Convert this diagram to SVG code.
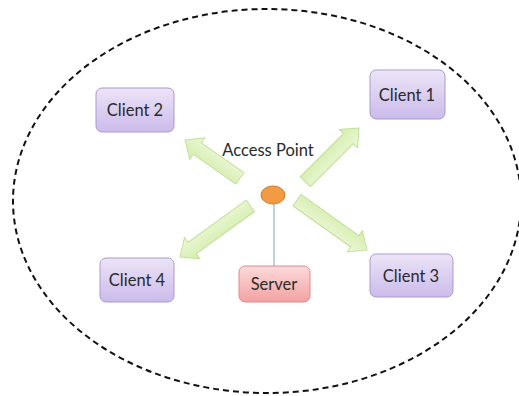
<svg xmlns="http://www.w3.org/2000/svg" width="519" height="396" viewBox="0 0 519 396">
<defs>
<linearGradient id="gp" x1="0" y1="0" x2="0" y2="1"><stop offset="0" stop-color="#ece4f7"/><stop offset="1" stop-color="#cbbbea"/></linearGradient>
<linearGradient id="gr" x1="0" y1="0" x2="0" y2="1"><stop offset="0" stop-color="#fcdada"/><stop offset="1" stop-color="#f2a2a2"/></linearGradient>
<linearGradient id="gg" x1="0" y1="0" x2="0" y2="1"><stop offset="0" stop-color="#eef8d8"/><stop offset="1" stop-color="#d2ecac"/></linearGradient>
</defs>
<style>
.box{fill:url(#gp);stroke:#ad99d0;stroke-width:1}
.srv{fill:url(#gr);stroke:#dc8c8c;stroke-width:1}
.t{font-family:Lato,"Open Sans",sans-serif;font-size:16.5px;fill:#2a2a2a;text-anchor:middle}
.ar{fill:url(#gg);stroke:#c2e09a;stroke-width:1}
</style>
<rect width="519" height="396" fill="#fff"/>
<ellipse cx="267" cy="201" rx="254" ry="192" fill="none" stroke="#111" stroke-width="2" stroke-dasharray="6,4"/>
<g id="connectors">
<line x1="274" y1="204" x2="274" y2="266" stroke="#7aa6c2" stroke-width="1"/>
<path class="ar" transform="translate(185,140) rotate(35)" d="M0,0 L15,-13 L15,-7 L67,-7 L67,7 L15,7 L15,13 Z"/>
<path class="ar" transform="translate(359,128) rotate(135)" d="M0,0 L15,-13 L15,-7 L76,-7 L76,7 L15,7 L15,13 Z"/>
<path class="ar" transform="translate(180,257) rotate(-36)" d="M0,0 L15,-13 L15,-7 L87,-7 L87,7 L15,7 L15,13 Z"/>
<path class="ar" transform="translate(367,250) rotate(215.5)" d="M0,0 L15,-13 L15,-7 L86,-7 L86,7 L15,7 L15,13 Z"/>
</g>
<g id="ap">
<ellipse cx="273" cy="195" rx="12" ry="9" fill="#f39a45" stroke="#d07828" stroke-width="1"/>
<text class="t" x="268" y="156">Access Point</text>
</g>
<g id="client2"><rect class="box" x="96" y="88" width="78" height="44" rx="6"/><text class="t" x="135" y="116">Client 2</text></g>
<g id="client1"><rect class="box" x="370" y="70" width="75" height="49" rx="6"/><text class="t" x="407" y="101">Client 1</text></g>
<g id="client4"><rect class="box" x="100" y="258" width="74" height="44" rx="6"/><text class="t" x="137" y="286">Client 4</text></g>
<g id="server"><rect class="srv" x="239" y="266" width="71" height="36" rx="6"/><text class="t" x="274" y="290">Server</text></g>
<g id="client3"><rect class="box" x="370" y="254" width="83" height="43" rx="6"/><text class="t" x="411" y="282">Client 3</text></g>
</svg>
